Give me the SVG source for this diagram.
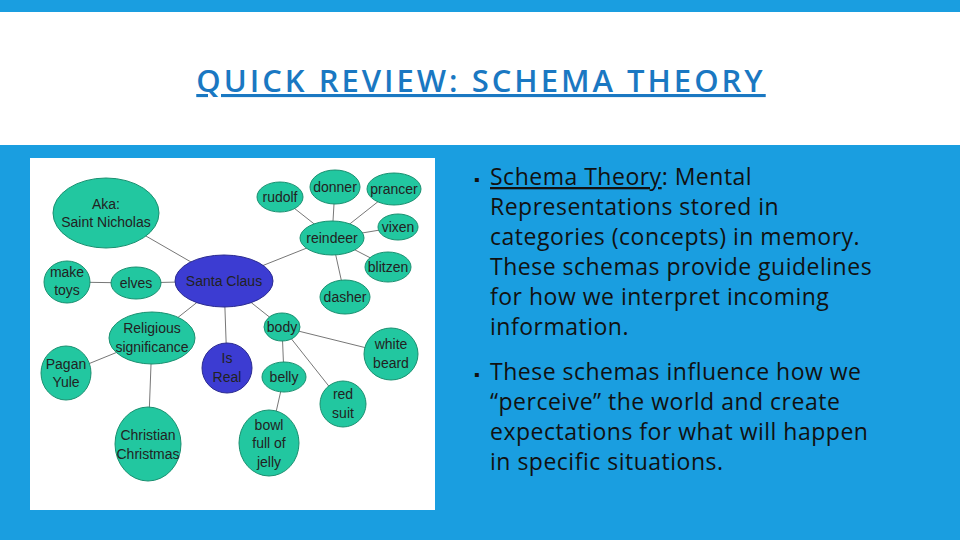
<svg xmlns="http://www.w3.org/2000/svg" width="960" height="540" viewBox="0 0 960 540">
<style>
.n{fill:#22c7a0;stroke:#1a9070;stroke-width:1}
.b{fill:#3c3cd2;stroke:#2a2a90;stroke-width:1}
.t{font-family:"Liberation Sans",Arial,sans-serif;font-size:14px;fill:#222;text-anchor:middle}
.c line{stroke:#777;stroke-width:1}
.r{font-family:"Open Sans","Liberation Sans",sans-serif;font-size:23px;letter-spacing:0.5px;fill:#111}
</style>
<rect width="960" height="540" fill="#1a9ee0"/>
<rect x="0" y="12" width="960" height="133" fill="#fff"/>
<text x="481" y="92" font-family="'Open Sans','Liberation Sans',sans-serif" font-weight="600" font-size="31" fill="#1a78c2" text-anchor="middle" letter-spacing="3" text-decoration="underline">QUICK REVIEW: SCHEMA THEORY</text>
<rect x="30" y="158" width="405" height="352" fill="#fff"/>
<g class="c">
<line x1="106" y1="213" x2="224" y2="281"/><line x1="67" y1="282" x2="136" y2="283"/><line x1="136" y1="283" x2="224" y2="281"/>
<line x1="152" y1="338" x2="224" y2="281"/><line x1="66" y1="373" x2="152" y2="338"/><line x1="148" y1="444" x2="152" y2="338"/>
<line x1="227" y1="368" x2="224" y2="281"/><line x1="332" y1="238" x2="224" y2="281"/>
<line x1="280" y1="197" x2="332" y2="238"/><line x1="335" y1="187" x2="332" y2="238"/><line x1="394" y1="189" x2="332" y2="238"/>
<line x1="398" y1="227" x2="332" y2="238"/><line x1="388" y1="267" x2="332" y2="238"/><line x1="345" y1="297" x2="332" y2="238"/>
<line x1="282" y1="327" x2="224" y2="281"/><line x1="391" y1="354" x2="282" y2="327"/><line x1="343" y1="404" x2="282" y2="327"/>
<line x1="284" y1="377" x2="282" y2="327"/><line x1="269" y1="443" x2="284" y2="377"/>
</g>
<g id="aka"><ellipse class="n" cx="106" cy="213" rx="53" ry="35"/><text class="t" x="106" y="209">Aka:</text><text class="t" x="106" y="227">Saint Nicholas</text></g>
<g id="santa"><ellipse class="b" cx="224" cy="281" rx="49" ry="26"/><text class="t" x="224" y="286">Santa Claus</text></g>
<g id="toys"><ellipse class="n" cx="67" cy="282" rx="23" ry="21"/><text class="t" x="67" y="277">make</text><text class="t" x="67" y="295">toys</text></g>
<g id="elves"><ellipse class="n" cx="136" cy="283" rx="25" ry="16"/><text class="t" x="136" y="288">elves</text></g>
<g id="religious"><ellipse class="n" cx="152" cy="338" rx="43" ry="26"/><text class="t" x="152" y="333">Religious</text><text class="t" x="152" y="352">significance</text></g>
<g id="pagan"><ellipse class="n" cx="66" cy="373" rx="25" ry="27"/><text class="t" x="66" y="369">Pagan</text><text class="t" x="66" y="387">Yule</text></g>
<g id="christian"><ellipse class="n" cx="148" cy="444" rx="33" ry="37"/><text class="t" x="148" y="440">Christian</text><text class="t" x="148" y="459">Christmas</text></g>
<g id="isreal"><ellipse class="b" cx="227" cy="368" rx="25" ry="25"/><text class="t" x="227" y="363">Is</text><text class="t" x="227" y="382">Real</text></g>
<g id="rudolf"><ellipse class="n" cx="280" cy="197" rx="23" ry="15"/><text class="t" x="280" y="202">rudolf</text></g>
<g id="donner"><ellipse class="n" cx="335" cy="187" rx="25" ry="17"/><text class="t" x="335" y="192">donner</text></g>
<g id="prancer"><ellipse class="n" cx="394" cy="189" rx="27" ry="16"/><text class="t" x="394" y="194">prancer</text></g>
<g id="vixen"><ellipse class="n" cx="398" cy="227" rx="20" ry="13"/><text class="t" x="398" y="232">vixen</text></g>
<g id="reindeer"><ellipse class="n" cx="332" cy="238" rx="32" ry="17"/><text class="t" x="332" y="243">reindeer</text></g>
<g id="blitzen"><ellipse class="n" cx="388" cy="267" rx="23" ry="15"/><text class="t" x="388" y="272">blitzen</text></g>
<g id="dasher"><ellipse class="n" cx="345" cy="297" rx="25" ry="17"/><text class="t" x="345" y="302">dasher</text></g>
<g id="body"><ellipse class="n" cx="282" cy="327" rx="18" ry="14"/><text class="t" x="282" y="332">body</text></g>
<g id="beard"><ellipse class="n" cx="391" cy="354" rx="27" ry="26"/><text class="t" x="391" y="349">white</text><text class="t" x="391" y="368">beard</text></g>
<g id="belly"><ellipse class="n" cx="284" cy="377" rx="22" ry="15"/><text class="t" x="284" y="382">belly</text></g>
<g id="redsuit"><ellipse class="n" cx="343" cy="404" rx="23" ry="23"/><text class="t" x="343" y="399">red</text><text class="t" x="343" y="418">suit</text></g>
<g id="bowl"><ellipse class="n" cx="269" cy="443" rx="30" ry="33"/><text class="t" x="269" y="430">bowl</text><text class="t" x="269" y="448">full of</text><text class="t" x="269" y="467">jelly</text></g>
<g class="r">
<text x="474" y="185" font-size="16">▪</text>
<text x="490" y="185"><tspan text-decoration="underline">Schema Theory</tspan>: Mental</text>
<text x="490" y="215">Representations stored in</text>
<text x="490" y="245">categories (concepts) in memory.</text>
<text x="490" y="275">These schemas provide guidelines</text>
<text x="490" y="305">for how we interpret incoming</text>
<text x="490" y="335">information.</text>
<text x="474" y="380" font-size="16">▪</text>
<text x="490" y="380">These schemas influence how we</text>
<text x="490" y="410">“perceive” the world  and create</text>
<text x="490" y="440">expectations for what will happen</text>
<text x="490" y="470">in specific situations.</text>
</g>
</svg>
